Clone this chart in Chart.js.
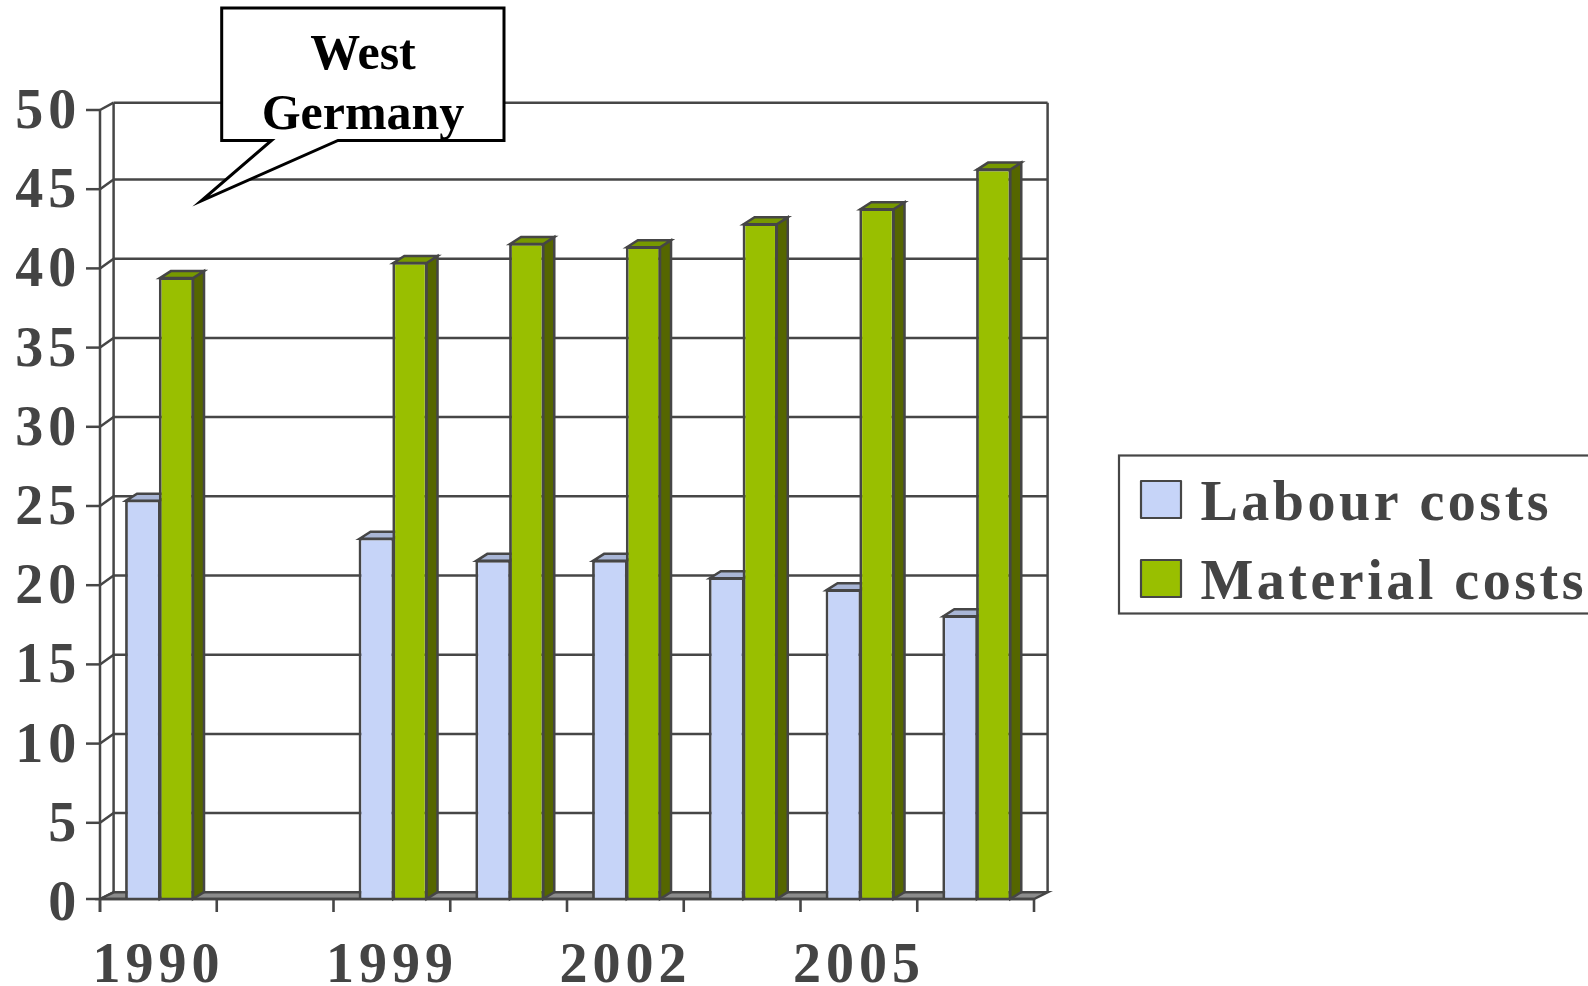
<!DOCTYPE html>
<html>
<head>
<meta charset="utf-8">
<title>Labour and material costs</title>
<style>
  html, body { margin: 0; padding: 0; background: #fff; overflow: hidden; }
  canvas { display: block; }
</style>
<script src="https://cdn.jsdelivr.net/npm/chart.js@4"></script>
</head>
<body>
<canvas id="costs" width="1588" height="986"></canvas>
<script>
const categories = ['1990', '', '1999', '', '2002', '', '2005', ''];
const labourCosts = [25.4, null, 23.0, 21.6, 21.6, 20.5, 19.75, 18.1];
const materialCosts = [39.45, null, 40.4, 41.6, 41.4, 42.85, 43.8, 46.3];
const calloutLines = ['West', 'Germany'];

const LINE = '#464646';
const TEXT = '#444444';
const SERIF = '"Liberation Serif", "Times New Roman", serif';

// pseudo 3D geometry of the box behind the bars
const FRONT_LEFT = 100;
const FRONT_RIGHT = 1034;
const FLOOR_Y = 899;
const FLOOR_BACK_Y = 892.3;
const WALL_TOP = 102.7;
const WALL_DX = 13.6;
const WALL_DY = 9.7;
const BAR_DX = 11;
const BAR_DY = 7;

function poly(ctx, pts, fill) {
  ctx.beginPath();
  pts.forEach((p, i) => (i ? ctx.lineTo(p[0], p[1]) : ctx.moveTo(p[0], p[1])));
  ctx.closePath();
  if (fill) {
    ctx.fillStyle = fill;
    ctx.fill();
  }
  ctx.stroke();
}

function line(ctx, x1, y1, x2, y2) {
  ctx.beginPath();
  ctx.moveTo(x1, y1);
  ctx.lineTo(x2, y2);
  ctx.stroke();
}

// walls, gridlines, floor and the top/side faces of every bar
const box3d = {
  id: 'box3d',
  beforeDraw(chart) {
    chart.ctx.letterSpacing = '5px';
  },
  beforeDatasetsDraw(chart) {
    const ctx = chart.ctx;
    const y = chart.scales.y;
    const backLeft = FRONT_LEFT + WALL_DX;
    const backRight = FRONT_RIGHT + WALL_DX;
    ctx.save();
    ctx.strokeStyle = LINE;
    ctx.lineWidth = 2.5;

    y.ticks.forEach(t => {
      const py = Math.min(y.getPixelForValue(t.value), FLOOR_Y);
      const by = t.value === 0 ? FLOOR_BACK_Y : Math.max(py - WALL_DY, WALL_TOP);
      line(ctx, 86, py, FRONT_LEFT, py);
      line(ctx, FRONT_LEFT, py, backLeft, by);
      if (t.value > 0) line(ctx, backLeft, by, backRight, by);
    });
    line(ctx, FRONT_LEFT, y.getPixelForValue(50), FRONT_LEFT, 912);
    line(ctx, backLeft, WALL_TOP, backLeft, FLOOR_BACK_Y);
    line(ctx, backRight, WALL_TOP, backRight, FLOOR_BACK_Y);

    poly(ctx, [
      [FRONT_LEFT, FLOOR_Y],
      [backLeft, FLOOR_BACK_Y],
      [backRight, FLOOR_BACK_Y],
      [FRONT_RIGHT, FLOOR_Y]
    ], '#8c8c8c');

    chart.data.datasets.forEach((ds, i) => {
      chart.getDatasetMeta(i).data.forEach((bar, j) => {
        if (ds.data[j] === null) return;
        const l = bar.x - bar.width / 2 + 1;
        const r = bar.x + bar.width / 2 - 1;
        const t = bar.y + 1;
        poly(ctx, [[r, t], [r + BAR_DX, t - BAR_DY], [r + BAR_DX, FLOOR_Y - BAR_DY], [r, FLOOR_Y]], ds.sideColor);
        poly(ctx, [[l, t], [l + BAR_DX, t - BAR_DY], [r + BAR_DX, t - BAR_DY], [r, t]], ds.topColor);
      });
    });
    ctx.restore();
  },
  afterDatasetsDraw(chart) {
    const ctx = chart.ctx;
    const slot = (FRONT_RIGHT - FRONT_LEFT) / categories.length;
    ctx.save();
    ctx.strokeStyle = LINE;
    ctx.lineWidth = 2.6;
    line(ctx, FRONT_LEFT, FLOOR_Y, FRONT_RIGHT, FLOOR_Y);
    for (let i = 0; i <= categories.length; i++) {
      const x = FRONT_LEFT + i * slot;
      line(ctx, x, FLOOR_Y, x, 912);
    }
    ctx.restore();
  }
};

// legend frame on the right, runs off the edge of the page
const sideLegend = {
  id: 'sideLegend',
  afterDraw(chart) {
    const ctx = chart.ctx;
    ctx.save();
    ctx.strokeStyle = LINE;
    ctx.lineWidth = 2.2;
    ctx.strokeRect(1119, 455.5, 500, 158);
    ctx.font = 'bold 56px ' + SERIF;
    ctx.letterSpacing = '3.5px';
    ctx.textBaseline = 'alphabetic';
    chart.data.datasets.forEach((ds, i) => {
      const top = 481 + i * 79;
      ctx.fillStyle = ds.backgroundColor;
      ctx.lineJoin = 'round';
      ctx.fillRect(1141, top, 40, 37);
      ctx.strokeRect(1141, top, 40, 37);
      ctx.fillStyle = TEXT;
      ctx.fillText(ds.label, 1200.5, 520 + i * 79);
    });
    ctx.restore();
  }
};

// speech bubble over the top left of the plot
const callout = {
  id: 'callout',
  afterDraw(chart) {
    const ctx = chart.ctx;
    ctx.save();
    ctx.strokeStyle = '#000';
    ctx.lineWidth = 3;
    ctx.lineJoin = 'miter';
    ctx.miterLimit = 10;
    poly(ctx, [
      [221.7, 8],
      [504, 8],
      [504, 140.5],
      [338, 140.5],
      [201, 201],
      [271.5, 140.5],
      [221.7, 140.5]
    ], '#fff');
    ctx.font = 'bold 50px ' + SERIF;
    ctx.letterSpacing = '0px';
    ctx.textAlign = 'center';
    ctx.textBaseline = 'alphabetic';
    ctx.fillStyle = '#000';
    calloutLines.forEach((txt, i) => ctx.fillText(txt, 363, 68.5 + i * 60.5));
    ctx.restore();
  }
};

const tickFont = { family: SERIF, size: 56, weight: 'bold', lineHeight: 1 };

new Chart(document.getElementById('costs'), {
  type: 'bar',
  data: {
    labels: categories,
    datasets: [
      {
        label: 'Labour costs',
        data: labourCosts,
        backgroundColor: '#c6d4f8',
        topColor: '#a9b6d6',
        sideColor: '#8494b8',
        borderColor: LINE,
        borderWidth: 2.8,
        borderSkipped: false,
        categoryPercentage: 0.574,
        barPercentage: 1.065,
        clip: { left: 8, top: 12, right: 30, bottom: -3 }
      },
      {
        label: 'Material costs',
        data: materialCosts,
        backgroundColor: '#99bf00',
        topColor: '#779900',
        sideColor: '#556600',
        borderColor: LINE,
        borderWidth: 2.8,
        borderSkipped: false,
        categoryPercentage: 0.574,
        barPercentage: 1.05,
        clip: { left: 8, top: 12, right: 30, bottom: -3 }
      }
    ]
  },
  options: {
    responsive: false,
    animation: false,
    devicePixelRatio: 1,
    layout: {
      autoPadding: false,
      padding: { left: 1.3, right: 552.7, top: 110, bottom: 0 }
    },
    plugins: {
      legend: { display: false },
      title: { display: false },
      tooltip: { enabled: false }
    },
    scales: {
      x: {
        offset: true,
        grid: { display: false, drawTicks: false },
        border: { display: false },
        afterFit: s => { s.height = 84; },
        ticks: {
          autoSkip: false,
          maxRotation: 0,
          minRotation: 0,
          padding: 38,
          labelOffset: -1.3,
          color: TEXT,
          font: tickFont
        }
      },
      y: {
        min: 0,
        max: 50,
        grid: { display: false, drawTicks: false },
        border: { display: false },
        afterFit: s => { s.width = 100; },
        ticks: {
          stepSize: 5,
          padding: 20,
          labelOffset: 3.5,
          color: TEXT,
          font: tickFont
        }
      }
    }
  },
  plugins: [box3d, sideLegend, callout]
});
</script>
</body>
</html>
